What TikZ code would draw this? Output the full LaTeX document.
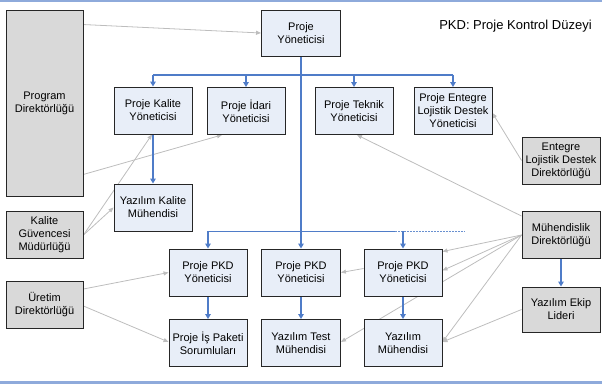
\documentclass[tikz,border=0pt]{standalone}
\usepackage{fontspec}
\setmainfont{Liberation Sans}
\usetikzlibrary{arrows.meta,calc}
\pgfdeclarelayer{bg}
\pgfsetlayers{bg,main}
\definecolor{boxblue}{HTML}{E8EEF8}
\definecolor{boxgray}{HTML}{D9D9D9}
\definecolor{edgeblue}{HTML}{4F7CC8}
\definecolor{rulblue}{HTML}{8EAADB}
\definecolor{linegray}{HTML}{BDBDBD}
\tikzset{
  box/.style={draw=black!85, line width=0.9pt, fill=boxblue, minimum width=78pt, minimum height=47pt,
    inner sep=0pt, align=center, font=\fontsize{11}{13}\selectfont},
  gbox/.style={box, fill=boxgray},
  barr/.style={draw=edgeblue, line width=1.4pt, -{Triangle[length=5pt,width=5.5pt]}},
  bline/.style={draw=edgeblue, line width=1.4pt},
  garr/.style={draw=linegray, line width=0.8pt, -{Triangle[length=5pt,width=4pt]}},
}
\begin{document}
\begin{tikzpicture}[x=1pt,y=-1pt]
\useasboundingbox (0,0) rectangle (602,385);
\draw[rulblue, line width=2.5pt] (0,1.2) -- (602,1.2);
\draw[rulblue, line width=3pt] (0,382) -- (602,382);
% nodes
\node[gbox, minimum width=77pt, minimum height=186pt] (pd) at (44.5,103) {Program\\Direktörlüğü};
\node[box, minimum width=79pt, minimum height=46pt] (py) at (301,33) {Proje\\Yöneticisi};
\node[font=\fontsize{13}{15}\selectfont, inner sep=0pt] (pkdnote) at (515.5,26) {PKD: Proje Kontrol Düzeyi};
\node[box] (pk) at (153,110.5) {Proje Kalite\\Yöneticisi};
\node[box] (pi) at (246,111) {Proje İdari\\Yöneticisi};
\node[box] (pt) at (354,111) {Proje Teknik\\Yöneticisi};
\node[box] (pe) at (453,111) {Proje Entegre\\Lojistik Destek\\Yöneticisi};
\node[gbox] (eld) at (561,160.5) {Entegre\\Lojistik Destek\\Direktörlüğü};
\node[box] (ykm) at (153,207.5) {Yazılım Kalite\\Mühendisi};
\node[gbox, minimum width=77pt] (kgm) at (44.5,235) {Kalite\\Güvencesi\\Müdürlüğü};
\node[gbox, minimum width=77pt] (ud) at (44.5,305) {Üretim\\Direktörlüğü};
\node[box] (pkd1) at (208,272.5) {Proje PKD\\Yöneticisi};
\node[box] (ips) at (208,343) {Proje İş Paketi\\Sorumluları};
\node[box, minimum width=79pt] (pkd2) at (301,272.5) {Proje PKD\\Yöneticisi};
\node[box, minimum width=79pt] (ytm) at (301,343) {Yazılım Test\\Mühendisi};
\node[box] (pkd3) at (403,272.5) {Proje PKD\\Yöneticisi};
\node[box] (ym) at (403,343) {Yazılım\\Mühendisi};
\node[gbox] (md) at (561,235) {Mühendislik\\Direktörlüğü};
\node[gbox, minimum height=45pt] (yel) at (561,309.5) {Yazılım Ekip\\Lideri};
\coordinate (busA) at (0,75);
\coordinate (busB) at (0,231);
\coordinate (busEnd) at (395,231);
\coordinate (dotEnd) at (465,231);
\begin{pgfonlayer}{bg}
% gray connectors
\draw[garr] ($(pd.north east)+(0,15)$) -- (py.west);
\draw[garr] ($(pd.south east)+(0,-22)$) -- ($(pi.south)+(-24,0)$);
\draw[garr] (kgm.east) -- ($(pk.south)+(-1,0)$);
\draw[garr] (kgm.east) -- (ykm.west);
\draw[garr] ($(ud.east)+(0,-16)$) -- (pkd1.west);
\draw[garr] ($(ud.east)+(0,1)$) -- ($(ips.west)+(0,-1)$);
\draw[garr] (eld.west) -- ($(pe.east)+(0,2)$);
\draw[garr] ($(md.north west)+(0,5)$) -- ($(pt.south)+(3,0)$);
\draw[garr] (md.west) -- ($(pkd3.north east)+(0,3)$);
\draw[garr] (md.west) -- ($(pkd3.east)+(0,-2)$);
\draw[garr] (md.west) -- ($(ytm.east)+(0,-1)$);
\draw[garr] (md.west) -- ($(ym.east)+(0,-1)$);
\draw[garr] (yel.west) -- ($(ym.east)+(0,-1)$);
\draw[garr] ($(pkd3.west)+(0,-4)$) -- (pkd2.east);
% blue connectors
\draw[barr] (py.south) -- (pkd2.north);
\draw[bline] (pk.north |- busA) -- (pe.north |- busA);
\draw[barr] (pk.north |- busA) -- (pk.north);
\draw[barr] (pi.north |- busA) -- (pi.north);
\draw[barr] (pt.north |- busA) -- (pt.north);
\draw[barr] (pe.north |- busA) -- (pe.north);
\draw[barr] (pk.south) -- (ykm.north);
\draw[draw=edgeblue, line width=1pt] (pkd1.north |- busB) -- (busEnd);
\draw[draw=edgeblue!85, line width=1pt, dash pattern=on 2pt off 1pt] (busEnd) -- (dotEnd);
\draw[barr] (pkd1.north |- busB) -- (pkd1.north);
\draw[barr] (pkd3.north |- busB) -- (pkd3.north);
\draw[barr] (pkd1.south) -- (ips.north);
\draw[barr] (pkd2.south) -- (ytm.north);
\draw[barr] (pkd3.south) -- (ym.north);
\draw[barr] (md.south) -- (yel.north);
\end{pgfonlayer}
\end{tikzpicture}
\end{document}
